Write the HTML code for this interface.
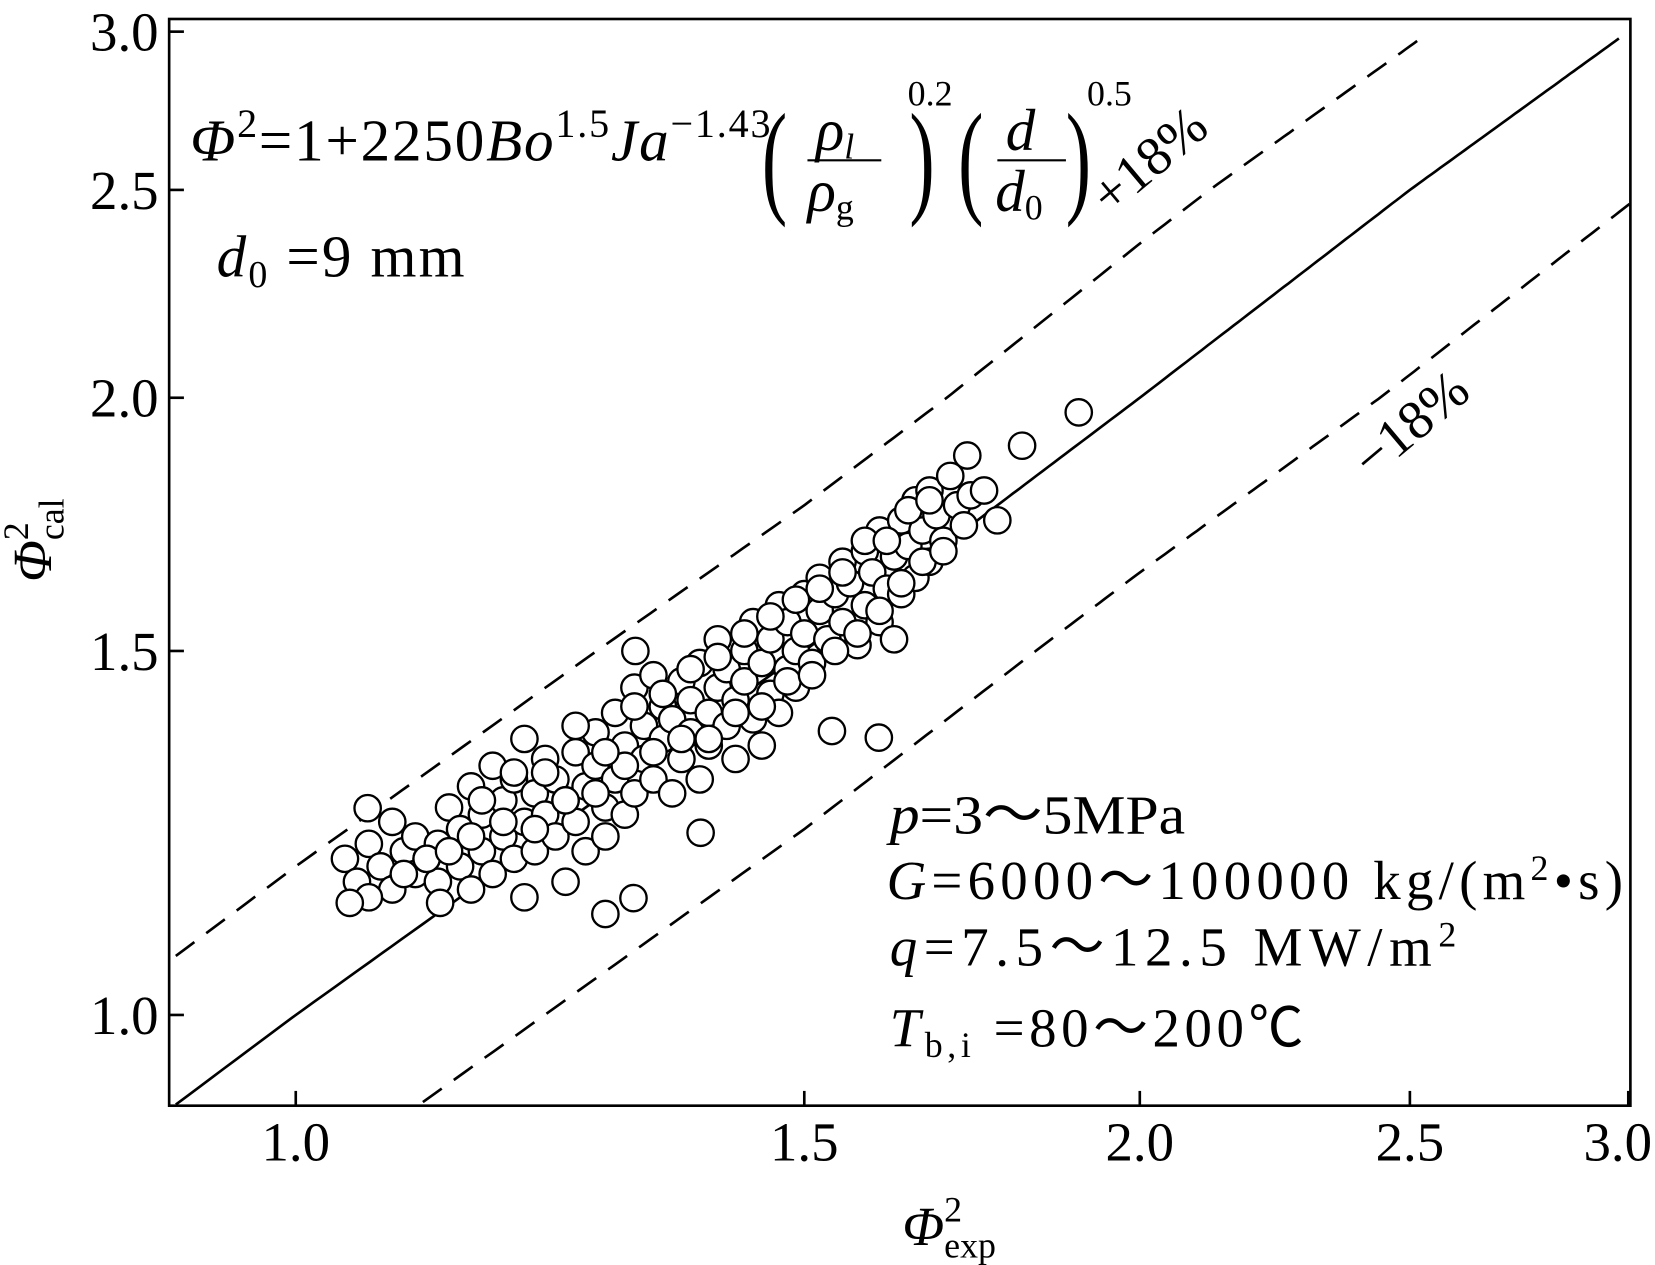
<!DOCTYPE html>
<html><head><meta charset="utf-8"><style>
html,body{margin:0;padding:0;background:#fff}
svg{display:block}
text{font-family:"Liberation Serif",serif;fill:#000}
.it{font-style:italic}
</style></head><body>
<svg id="chart" width="1655" height="1265" viewBox="0 0 1568 1199" xmlns="http://www.w3.org/2000/svg">
<rect x="160" y="18" width="1385" height="1030" fill="none" stroke="#000" stroke-width="2.5"/>
<g id="lines"></g>
<g id="pts"></g>
<g id="ticks"></g>
<text transform="translate(48,512) rotate(-90)" font-size="52" class="it" text-anchor="middle">Φ<tspan font-style="normal" font-size="34" dy="-22">2</tspan><tspan font-style="normal" font-size="34" dx="-17" dy="34">cal</tspan></text>
<text x="855" y="1180" font-size="52" class="it">Φ<tspan font-style="normal" font-size="34" dy="-22">2</tspan><tspan font-style="normal" font-size="34" dx="-17" dy="34">exp</tspan></text>
<g font-size="56">
<text x="180" y="152" textLength="550" lengthAdjust="spacing"><tspan class="it">Φ</tspan><tspan font-size="38" dy="-22">2</tspan><tspan dy="22">=1+2250</tspan><tspan class="it">Bo</tspan><tspan font-size="38" dy="-22">1.5</tspan><tspan class="it" dy="22">Ja</tspan><tspan font-size="38" dy="-22">−1.43</tspan></text>
<text x="722" y="190" font-size="120" transform="scale(0.6,1) translate(481,0)">(</text>
<text x="773" y="142" class="it">ρ<tspan font-size="34" dy="8">l</tspan></text>
<line x1="765" y1="152" x2="835" y2="152" stroke="#000" stroke-width="2"/>
<text x="765" y="200" class="it">ρ<tspan font-style="normal" font-size="34" dy="8">g</tspan></text>
<text x="862" y="190" font-size="120" transform="scale(0.6,1) translate(574,0)">)</text>
<text x="860" y="100" font-size="34">0.2</text>
<text x="908" y="190" font-size="120" transform="scale(0.6,1) translate(605,0)">(</text>
<text x="953" y="142" class="it">d</text>
<line x1="945" y1="152" x2="1010" y2="152" stroke="#000" stroke-width="2"/>
<text x="943" y="200" class="it">d<tspan font-style="normal" font-size="34" dy="8">0</tspan></text>
<text x="1010" y="190" font-size="120" transform="scale(0.6,1) translate(673,0)">)</text>
<text x="1030" y="100" font-size="34">0.5</text>
</g>
<text x="205" y="262" font-size="56" textLength="235" lengthAdjust="spacing"><tspan class="it">d</tspan><tspan font-size="36" dy="10">0</tspan><tspan dy="-10"> =9 mm</tspan></text>
<text transform="translate(1052,205) rotate(-40)" font-size="52">+18%</text>
<text transform="translate(1300,455) rotate(-40)" font-size="52">−18%</text>
<g font-size="52">
<text x="843" y="790" textLength="280" lengthAdjust="spacingAndGlyphs"><tspan class="it">p</tspan>=3～5MPa</text>
<text x="840" y="852" textLength="698" lengthAdjust="spacing"><tspan class="it">G</tspan>=6000～100000 kg/(m<tspan font-size="34" dy="-18">2</tspan><tspan dy="18">•s)</tspan></text>
<text x="843" y="915" textLength="537" lengthAdjust="spacing"><tspan class="it">q</tspan>=7.5～12.5 MW/m<tspan font-size="34" dy="-18">2</tspan></text>
<text x="843" y="992" textLength="392" lengthAdjust="spacing"><tspan class="it">T</tspan><tspan font-size="34" dy="10">b,i</tspan><tspan dy="-10"> =80～200℃</tspan></text>
</g>
</svg>
<script>
const xTicks=[1.0,1.5,2.0,2.5,3.0];
const yTicks=[1.0,1.5,2.0,2.5,3.0];
const xTickLabels=["1.0","1.5","2.0","2.5","3.0"];
const yTickLabels=["1.0","1.5","2.0","2.5","3.0"];
const xAnchors=[0.9,1.0,1.5,2.0,2.5,3.0];
const xPix=[160,280,762,1080,1336,1543];
const yAnchors=[1.0,1.5,2.0,2.5,3.0];
const yPix=[962,617,377,180,30];
const xs=[1.04,1.05,1.06,1.07,1.08,1.09,1.10,1.10,1.06,1.08,1.12,1.12,1.13,1.14,1.14,1.15,1.15,1.16,1.16,1.17,1.17,1.18,1.18,1.19,1.19,1.20,1.20,1.21,1.21,1.22,1.22,1.23,1.23,1.24,1.24,1.25,1.25,1.26,1.26,1.27,1.27,1.28,1.28,1.29,1.29,1.30,1.30,1.31,1.31,1.32,1.32,1.33,1.33,1.34,1.34,1.35,1.35,1.36,1.36,1.37,1.37,1.38,1.38,1.39,1.39,1.40,1.40,1.41,1.41,1.42,1.42,1.43,1.43,1.44,1.44,1.45,1.45,1.46,1.46,1.47,1.47,1.48,1.48,1.49,1.49,1.50,1.50,1.51,1.52,1.52,1.53,1.54,1.55,1.55,1.56,1.57,1.58,1.58,1.59,1.60,1.60,1.61,1.62,1.62,1.63,1.63,1.64,1.65,1.65,1.66,1.67,1.67,1.68,1.69,1.70,1.71,1.72,1.73,1.75,1.77,1.898,1.808,1.725,1.044,1.122,1.28,1.309,1.381,1.599,1.536,1.059,1.311,1.20,1.11,
1.09,1.11,1.13,1.15,1.18,1.21,1.24,1.27,1.30,1.33,1.36,1.39,1.42,1.45,1.48,1.51,1.54,1.57,1.60,1.63,1.66,1.69,1.16,1.19,1.22,1.25,1.28,1.31,1.34,1.37,1.40,1.43,1.46,1.49,1.52,1.55,1.58,1.61,1.64,1.67];
const ys=[1.19,1.16,1.21,1.18,1.15,1.20,1.17,1.22,1.14,1.24,1.16,1.21,1.26,1.18,1.23,1.15,1.29,1.20,1.25,1.32,1.17,1.22,1.27,1.30,1.19,1.24,1.36,1.28,1.20,1.33,1.25,1.22,1.30,1.27,1.16,1.34,1.24,1.29,1.20,1.32,1.37,1.26,1.22,1.30,1.40,1.35,1.25,1.28,1.44,1.38,1.33,1.30,1.46,1.36,1.41,1.28,1.39,1.45,1.33,1.42,1.37,1.48,1.30,1.40,1.35,1.44,1.52,1.38,1.47,1.33,1.42,1.50,1.45,1.39,1.55,1.48,1.35,1.43,1.52,1.58,1.40,1.47,1.55,1.50,1.44,1.60,1.53,1.48,1.57,1.63,1.52,1.60,1.55,1.66,1.62,1.51,1.58,1.68,1.64,1.55,1.72,1.61,1.67,1.52,1.74,1.60,1.69,1.78,1.63,1.72,1.80,1.66,1.75,1.70,1.83,1.77,1.73,1.79,1.80,1.74,1.967,1.894,1.873,1.133,1.133,1.119,1.139,1.225,1.362,1.372,1.259,1.5,1.14,1.19,
1.17,1.19,1.20,1.22,1.24,1.23,1.27,1.28,1.32,1.34,1.36,1.36,1.40,1.41,1.45,1.46,1.50,1.53,1.57,1.62,1.66,1.68,1.27,1.31,1.31,1.38,1.34,1.41,1.43,1.47,1.49,1.53,1.56,1.59,1.61,1.64,1.70,1.70,1.76,1.78];
const NS="http://www.w3.org/2000/svg";
function interp(v,t,p){const l=Math.log(v);let i=0;const n=t.length;
 if(l<=Math.log(t[1]))i=0;else if(l>Math.log(t[n-2]))i=n-2;else{for(let k=0;k<n-1;k++){if(l<=Math.log(t[k+1])){i=k;break;}}}
 const a=Math.log(t[i]),b=Math.log(t[i+1]);return p[i]+(l-a)/(b-a)*(p[i+1]-p[i]);}
function X(v){return interp(v,xAnchors,xPix);}
function Y(v){return interp(v,yAnchors,yPix);}
function el(tag,attrs){const e=document.createElementNS(NS,tag);for(const k in attrs)e.setAttribute(k,attrs[k]);return e;}
const tg=document.getElementById('ticks');
xTicks.forEach((t,i)=>{
 const l=el('line',{x1:X(t),x2:X(t),y1:1048,y2:1034,stroke:'#000','stroke-width':2.5});
 
 
 tg.appendChild(l);
 const anchorX=Math.min(X(t),1533);
 const tx=el('text',{x:anchorX,y:1100,'font-size':52,'text-anchor':'middle'});
 
 
 tx.textContent=xTickLabels[i];tg.appendChild(tx);
});
yTicks.forEach((t,i)=>{
 const l=el('line',{x1:160,x2:174,y1:Y(t),y2:Y(t),stroke:'#000','stroke-width':2.5});
 
 
 tg.appendChild(l);
 const tx=el('text',{x:150,y:Y(t)+18,'font-size':52,'text-anchor':'end'});
 
 
 tx.textContent=yTickLabels[i];tg.appendChild(tx);
});
const lg=document.getElementById('lines');
function refLine(f,name,dash){
 let d='';for(let i=0;i<=240;i++){const x=0.85+i*(2.2/240);const y=x*f;let px=X(x),py=Y(y);
  if(px<160||py<36||px>1545||py>1048)continue;d+=(d?'L':'M')+px.toFixed(1)+','+py.toFixed(1);}
 const p=el('path',{d:d,fill:'none',stroke:'#000','stroke-width':2.5});
 if(dash)p.setAttribute('stroke-dasharray','22,14');
 
 
 lg.appendChild(p);
}
refLine(1,'parity-line',false);
refLine(1.18,'plus-18-line',true);
refLine(0.82,'minus-18-line',true);
const pg=document.getElementById('pts');
xs.forEach((x,i)=>{
 const c=el('circle',{cx:X(x),cy:Y(ys[i]),r:12.5,fill:'#fff',stroke:'#000','stroke-width':2.2});
 
 
 pg.appendChild(c);
});
</script>
</body></html>
